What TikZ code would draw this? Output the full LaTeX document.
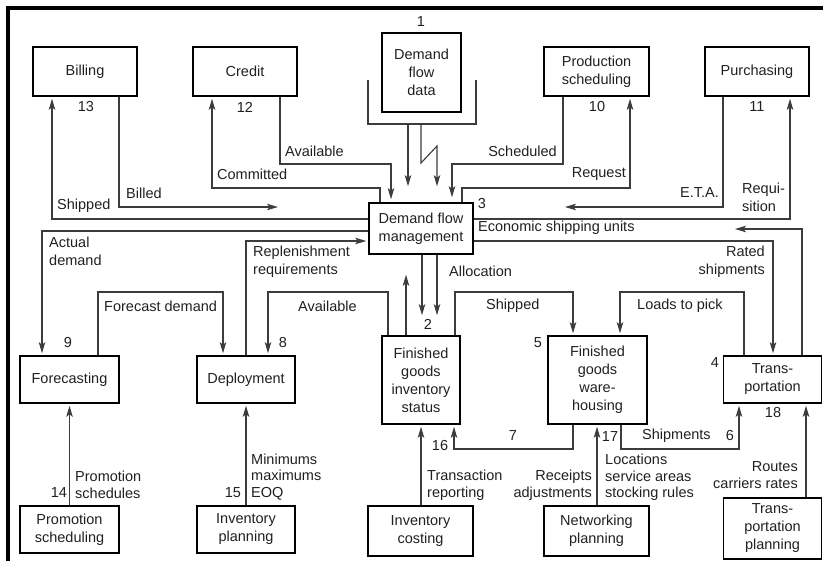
\documentclass[tikz,border=0pt]{standalone}
\usepackage{fontspec}
\setmainfont{Liberation Sans}
\usetikzlibrary{arrows.meta}
\definecolor{ink}{HTML}{231F20}
\definecolor{wire}{HTML}{3C3C3C}
\begin{document}
\begin{tikzpicture}[x=1pt,y=-1pt,
  font=\fontsize{14.5}{18}\selectfont,
  every node/.style={text=ink},
  box/.style={draw=black, line width=1.6pt, align=center, inner sep=0pt},
  lbl/.style={inner sep=0pt},
  tight/.style={font=\fontsize{14.5}{16.5}\selectfont},
  conn/.style={draw=wire, line width=1.1pt, line join=miter},
  arr/.style={conn, -{Stealth[length=11pt,width=6.5pt,inset=2.5pt]}, shorten >=2pt},
]
\useasboundingbox (0,0) rectangle (823,561);

% frame
\draw[line width=4pt, line join=miter] (7.5,561) -- (7.5,8) -- (823,8);

% ---------- boxes ----------
\node[box, minimum width=104pt, minimum height=49pt] (billing) at (85,71.5) {Billing};
\node[box, minimum width=104pt, minimum height=49pt] (credit) at (245,71.5) {Credit};
\node[box, minimum width=79pt, minimum height=79pt] (dfd) at (421.5,72.5) {Demand\\flow\\data};
\node[box, minimum width=105pt, minimum height=49pt] (prod) at (596.5,71.5) {Production\\scheduling};
\node[box, minimum width=104pt, minimum height=49pt] (purch) at (757,71.5) {Purchasing};
\node[box, minimum width=104pt, minimum height=51pt] (dfm) at (421,228.5) {Demand flow\\management};
\node[box, minimum width=99pt, minimum height=47pt] (fcst) at (69.5,379.5) {Forecasting};
\node[box, minimum width=98pt, minimum height=47pt] (depl) at (246,379.5) {Deployment};
\node[box, minimum width=78pt, minimum height=88pt] (fgis) at (421,380) {Finished\\goods\\inventory\\status};
\node[box, minimum width=99pt, minimum height=88pt] (fgwh) at (597.5,380) {Finished\\goods\\ware-\\housing};
\node[box, minimum width=98pt, minimum height=47pt] (transp) at (772.5,379.5) {Trans-\\portation};
\node[box, minimum width=99pt, minimum height=47pt] (promo) at (69.5,529.5) {Promotion\\scheduling};
\node[box, minimum width=98pt, minimum height=47pt] (invplan) at (246,529.5) {Inventory\\planning};
\node[box, minimum width=105pt, minimum height=50pt] (invcost) at (420.5,531) {Inventory\\costing};
\node[box, minimum width=105pt, minimum height=50pt] (netplan) at (596.5,531) {Networking\\planning};
\node[box, minimum width=98pt, minimum height=61pt] (tplan) at (772.5,528.5) {Trans-\\portation\\planning};

% ---------- data store bracket ----------
\coordinate (storeL) at (368,124);
\coordinate (storeR) at (476,124);
\draw[conn] (storeL |- 0,80) -- (storeL) -- (storeR) -- (storeR |- 0,80);

% free ends of connectors
\coordinate (billedend) at (280,207);
\coordinate (etaend) at (563,207);
\coordinate (esuend) at (733,229);

% ---------- connectors, upper half ----------
\draw[arr, shorten >=16pt] (storeL -| 408,0) -- (dfm.north -| 408,0);
\draw[arr, shorten >=16pt] (storeL -| 421,0) -- (421,163) -- (437,146) -- (dfm.north -| 437,0);
\draw[arr] (dfm.west |- 0,219) -| (billing.south -| 52,0);
\draw[arr] (billing.south -| 119,0) |- (billedend);
\draw[arr] (dfm.north -| 380,0) |- (212,188) -- (credit.south -| 212,0);
\draw[arr, shorten >=3pt] (credit.south -| 280,0) |- (391,164) -- (dfm.north -| 391,0);
\draw[arr, shorten >=5pt] (prod.south -| 563,0) |- (452,164) -- (dfm.north -| 452,0);
\draw[arr] (dfm.north -| 462,0) |- (630,188) -- (prod.south -| 630,0);
\draw[arr] (purch.south -| 723,0) |- (etaend);
\draw[arr] (dfm.east |- 0,219) -| (purch.south -| 790,0);
\draw[arr] (dfm.west |- 0,231) -| (fcst.north -| 42,0);
\draw[arr] (depl.north -| 246,0) |- (dfm.west |- 0,241);
\draw[arr] (transp.north -| 802,0) |- (esuend);
\draw[arr] (dfm.east |- 0,241) -| (transp.north -| 773,0);
\draw[arr, shorten >=20pt] (dfm.south -| 422,0) -- (fgis.north -| 422,0);
\draw[arr, shorten >=20pt] (dfm.south -| 437,0) -- (fgis.north -| 437,0);
\draw[arr, shorten >=20pt] (fgis.north -| 406,0) -- (dfm.south -| 406,0);

% ---------- connectors, lower half ----------
\draw[arr] (fcst.north -| 98,0) |- (223,292) -- (depl.north -| 223,0);
\draw[arr] (fgis.north -| 388,0) |- (268,292) -- (depl.north -| 268,0);
\draw[arr] (fgis.north -| 455,0) |- (573,292) -- (fgwh.north -| 573,0);
\draw[arr] (transp.north -| 744,0) |- (620,292) -- (fgwh.north -| 620,0);
\draw[arr] (fgwh.south -| 573,0) |- (454,449) -- (fgis.south -| 454,0);
\draw[arr] (fgwh.south -| 621,0) |- (739,449) -- (transp.south -| 739,0);
\draw[arr] (promo.north) -- (fcst.south);
\draw[arr] (invplan.north) -- (depl.south);
\draw[arr] (invcost.north -| 421,0) -- (fgis.south -| 421,0);
\draw[arr] (netplan.north -| 597,0) -- (fgwh.south -| 597,0);
\draw[arr] (tplan.north -| 806,0) -- (transp.south -| 806,0);

% ---------- connector labels ----------
\node[lbl, anchor=west] (lShip1) at (57,206) {Shipped};
\node[lbl, anchor=west] (lBilled) at (126,193) {Billed};
\node[lbl, anchor=west] (lComm) at (217,174) {Committed};
\node[lbl, anchor=west] (lAvail1) at (285,151) {Available};
\node[lbl, anchor=east] (lSched) at (557,151) {Scheduled};
\node[lbl, anchor=east] (lReq) at (626,174) {Request};
\node[lbl, anchor=east] (lEta) at (719,193) {E.T.A.};
\node[lbl, anchor=west, align=left] (lReqn) at (742,197) {Requi-\\sition};
\node[lbl, anchor=west, align=left] (lActual) at (49,251) {Actual\\demand};
\node[lbl, anchor=west, align=left] (lRepl) at (253,261.5) {Replenishment\\requirements};
\node[lbl, anchor=west] (lEsu) at (478,228) {Economic shipping units};
\node[lbl, anchor=east, align=right] (lRated) at (765,261.5) {Rated\\shipments};
\node[lbl, anchor=west] (lAlloc) at (449,271) {Allocation};
\node[lbl, anchor=west] (lFcst) at (104,306) {Forecast demand};
\node[lbl, anchor=west] (lAvail2) at (298,306) {Available};
\node[lbl, anchor=west] (lShip2) at (486,306) {Shipped};
\node[lbl, anchor=west] (lLoads) at (637,306) {Loads to pick};
\node[lbl, anchor=west] (lShipm) at (642,436) {Shipments};
\node[lbl, anchor=west, align=left, tight] (lPromo) at (75,485) {Promotion\\schedules};
\node[lbl, anchor=west, align=left, tight] (lMin) at (251,477) {Minimums\\maximums\\EOQ};
\node[lbl, anchor=west, align=left, tight] (lTrans) at (427,485.5) {Transaction\\reporting};
\node[lbl, anchor=east, align=right, tight] (lRcpt) at (592,485.5) {Receipts\\adjustments};
\node[lbl, anchor=west, align=left, tight] (lLoc) at (605,477.5) {Locations\\service areas\\stocking rules};
\node[lbl, anchor=east, align=right, tight] (lRoutes) at (798,475) {Routes\\carriers rates};

% ---------- reference numbers ----------
\node[lbl] (n1) at (421,22) {1};
\node[lbl] (n2) at (428,324) {2};
\node[lbl] (n3) at (482,204) {3};
\node[lbl] (n4) at (715,363) {4};
\node[lbl] (n5) at (538,343) {5};
\node[lbl] (n6) at (730,436) {6};
\node[lbl] (n7) at (513,436) {7};
\node[lbl] (n8) at (283,343) {8};
\node[lbl] (n9) at (68,343) {9};
\node[lbl] (n10) at (597,107) {10};
\node[lbl] (n11) at (757,107) {11};
\node[lbl] (n12) at (245,107) {12};
\node[lbl] (n13) at (86,107) {13};
\node[lbl] (n14) at (59,493) {14};
\node[lbl] (n15) at (233,493) {15};
\node[lbl] (n16) at (440,446) {16};
\node[lbl] (n17) at (610,437) {17};
\node[lbl] (n18) at (773,413) {18};
\end{tikzpicture}
\end{document}
